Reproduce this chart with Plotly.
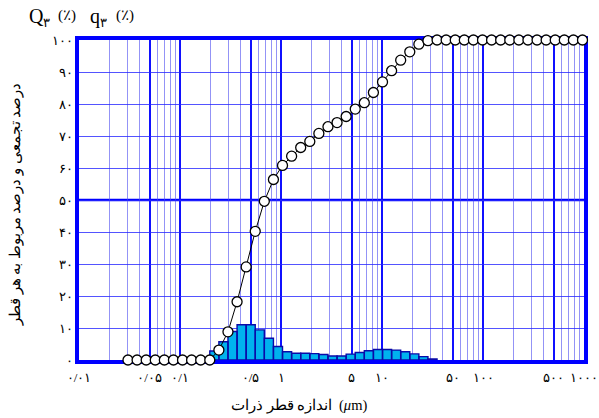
import plotly.graph_objects as go

sizes = [0.03055, 0.03758, 0.04624, 0.05689, 0.06998, 0.08610, 0.1059, 0.1303, 0.1603, 0.1972,
         0.2427, 0.2985, 0.3673, 0.4519, 0.5559, 0.6839, 0.8414, 1.035, 1.274, 1.567,
         1.928, 2.371, 2.917, 3.589, 4.416, 5.433, 6.683, 8.222, 10.12, 12.45,
         15.31, 18.84, 23.17, 28.51, 35.08, 43.15, 53.09, 65.31, 80.35, 98.86,
         121.6, 149.6, 184.1, 226.5, 278.6, 342.8, 421.7, 518.8, 638.3, 785.2, 966.1]

# Cumulative percentage Q3 (%)
Q3 = [0, 0, 0, 0, 0, 0, 0, 0, 0, 0,
      3.1, 8.8, 18.2, 29.1, 40.2, 49.6, 56.4, 60.8, 63.7, 66.4,
      68.3, 70.8, 72.9, 74.2, 76.1, 78.4, 80.4, 83.6, 86.9, 90.4,
      93.7, 96.3, 98.7, 99.8, 100, 100, 100, 100, 100, 100,
      100, 100, 100, 100, 100, 100, 100, 100, 100, 100, 100]

# Differential percentage q3 (%) for each channel between sizes[i] and sizes[i+1]
q3 = [0, 0, 0, 0, 0, 0, 0, 0, 0, 2.8,
      5.7, 8.9, 11.0, 11.0, 9.4, 6.8, 4.2, 2.6, 2.1, 2.1,
      2.0, 1.7, 1.25, 1.25, 1.85, 2.35, 2.9, 3.3, 3.3, 3.1,
      2.6, 1.9, 1.05, 0.3, 0, 0, 0, 0, 0, 0,
      0, 0, 0, 0, 0, 0, 0, 0, 0, 0]

x_tickvals = [0.01, 0.05, 0.1, 0.5, 1, 5, 10, 50, 100, 500, 1000]
x_ticktext = ["۰/۰۱", "۰/۰۵", "۰/۱", "۰/۵", "۱", "۵", "۱۰", "۵۰", "۱۰۰", "۵۰۰", "۱۰۰۰"]
y_tickvals = [0, 10, 20, 30, 40, 50, 60, 70, 80, 90, 100]
y_ticktext = ["۰", "۱۰", "۲۰", "۳۰", "۴۰", "۵۰", "۶۰", "۷۰", "۸۰", "۹۰", "۱۰۰"]

minor_vals = [d * m for d in (0.01, 0.1, 1, 10, 100) for m in (2, 3, 4, 6, 7, 8, 9)]

# histogram bars as closed rectangles
bx, by = [], []
for i, q in enumerate(q3):
    if q > 0:
        bx += [sizes[i], sizes[i], sizes[i + 1], sizes[i + 1], sizes[i], None]
        by += [0, q, q, 0, 0, None]

fig = go.Figure()
fig.add_trace(go.Scatter(x=bx, y=by, mode="lines", fill="toself",
                         fillcolor="#00b2ee", line=dict(color="#0a0aa8", width=1.4),
                         hoverinfo="skip", cliponaxis=False, showlegend=False))
fig.add_trace(go.Scatter(x=sizes, y=Q3, mode="lines+markers",
                         line=dict(color="black", width=1),
                         marker=dict(symbol="circle", size=10, color="white",
                                     line=dict(color="black", width=1.3)),
                         cliponaxis=False, showlegend=False))

serif = "Times New Roman, Liberation Serif, DejaVu Serif, serif"

L, R, T, B = 79, 15, 40, 58
W, H = 599, 418
pw = W - L - R
ph = H - T - B


def px_x(px):
    return (px - L) / pw


def px_y(py):
    return 1 - (py - T) / ph


def note(text, x, y, size, xanchor="left", angle=0):
    return dict(xref="paper", yref="paper", x=px_x(x), y=px_y(y), xanchor=xanchor,
                yanchor="middle", showarrow=False, textangle=angle,
                text=text, font=dict(size=size, family=serif))


fig.update_layout(
    width=W, height=H,
    margin=dict(l=L, r=R, t=T, b=B),
    plot_bgcolor="white", paper_bgcolor="white",
    font=dict(family=serif, color="black", size=12),
    xaxis=dict(type="log", range=[-2, 3.0], tickmode="array",
               tickvals=x_tickvals, ticktext=x_ticktext,
               showgrid=True, gridcolor="#1010ff", gridwidth=1.8,
               showline=True, linecolor="#0000ff", linewidth=3.5, mirror=True,
               ticks="", zeroline=False, layer="below traces", automargin=False,
               ticklabelstandoff=3,
               tickfont=dict(size=13, family=serif),
               minor=dict(tickvals=minor_vals, showgrid=True,
                          gridcolor="rgba(80,80,240,0.62)", gridwidth=1, ticks="")),
    yaxis=dict(range=[0, 100], tickmode="array", tickvals=y_tickvals, ticktext=y_ticktext,
               showgrid=True, gridcolor="rgba(40,40,255,0.8)", gridwidth=1,
               showline=True, linecolor="#0000ff", linewidth=3.5, mirror=True,
               ticks="", zeroline=False, layer="below traces", automargin=False,
               tickfont=dict(size=13, family=serif)),
    shapes=[dict(type="line", xref="paper", yref="y", x0=0, x1=1, y0=50, y1=50,
                 line=dict(color="#0000ff", width=2.5), layer="below")],
    annotations=[
        # x-axis title (Persian part + unit)
        note("اندازه قطر ذرات", 334, 405, 14.5, xanchor="right"),
        note("(<i>μ</i>m)", 337, 405, 14.5, xanchor="left"),
        # y-axis title
        note("درصد تجمعی و درصد مربوط به هر قطر", 15, 205, 14.5, xanchor="center", angle=-90),
        # header  Q3 (%)  q3 (%)
        note("Q<sub><span style='font-size:13px'>۳</span></sub>", 27, 17, 20),
        note("(٪)", 56, 15, 15),
        note("q<sub><span style='font-size:13px'>۳</span></sub>", 88, 17, 20),
        note("(٪)", 114, 15, 15),
    ],
)

fig.write_html("out.html")
